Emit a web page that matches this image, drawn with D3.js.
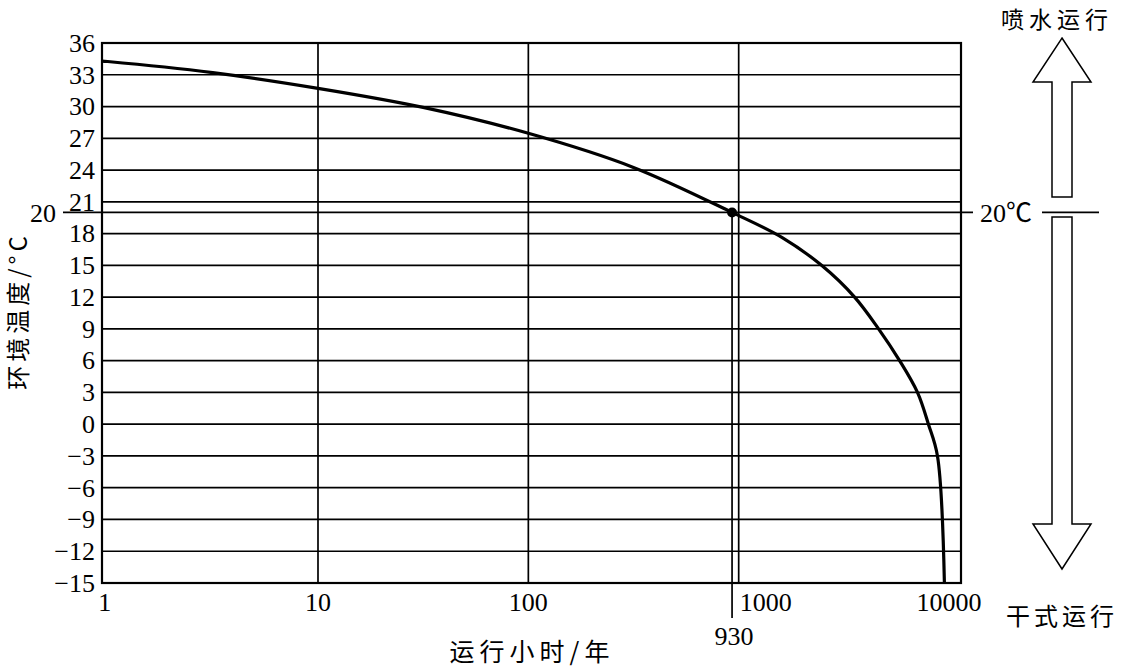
<!DOCTYPE html>
<html><head><meta charset="utf-8">
<script src="https://cdn.jsdelivr.net/npm/d3@7"></script>
<style>
body{margin:0;background:#fff;}
svg{display:block;}
.num{font-family:"Liberation Serif","Times New Roman",serif;font-size:26px;fill:#000;}
.cjk{font-family:"Noto Sans CJK SC","Noto Sans CJK JP",sans-serif;fill:#000;}
</style>
</head><body>
<svg id="c" width="1123" height="668"></svg>
<script>
// ---- data ----
const hours = [0.94, 1, 3.16, 10, 31.6, 100, 316, 930, 1618, 2477, 3556, 4624, 5821, 7079, 7980, 8810, 9506];
const temps = [34.29, 34.25, 33.2, 31.72, 29.92, 27.47, 24.25, 20, 17.6, 15, 12, 9, 6, 3, 0, -3, -15];
const yTicks = [-15, -12, -9, -6, -3, 0, 3, 6, 9, 12, 15, 18, 21, 24, 27, 30, 33, 36];
const xTicks = [1, 10, 100, 1000, 10000];
const xGrid = [10, 100, 1000];
const markHours = 930, markTemp = 20;
const xTitle = "运行小时/年";
const yTitle = "环境温度/°C";
const upLabel = "喷水运行", downLabel = "干式运行";

// ---- layout ----
const L = 102, R = 961, T = 43, B = 583;
const svg = d3.select("#c");
const x = d3.scaleLog().domain([0.94, 11400]).range([L, R]);
const y = d3.scaleLinear().domain([-15, 36]).range([B, T]);

// horizontal grid
svg.append("g").selectAll("line").data(yTicks).join("line")
  .attr("x1", L).attr("x2", R).attr("y1", d => y(d)).attr("y2", d => y(d))
  .attr("stroke", "#000").attr("stroke-width", 1.7);
// vertical grid
svg.append("g").selectAll("line").data(xGrid).join("line")
  .attr("x1", d => x(d)).attr("x2", d => x(d)).attr("y1", T).attr("y2", B)
  .attr("stroke", "#000").attr("stroke-width", 1.7);

// 20 line (extends left & right)
svg.append("line").attr("x1", 63).attr("x2", 973).attr("y1", y(markTemp)).attr("y2", y(markTemp))
  .attr("stroke", "#000").attr("stroke-width", 1.7);
svg.append("line").attr("x1", 1042).attr("x2", 1099).attr("y1", y(markTemp)).attr("y2", y(markTemp))
  .attr("stroke", "#000").attr("stroke-width", 1.7);
// 930 line
svg.append("line").attr("x1", x(markHours)).attr("x2", x(markHours)).attr("y1", y(markTemp)).attr("y2", 618)
  .attr("stroke", "#000").attr("stroke-width", 1.7);

// frame
svg.append("rect").attr("x", L).attr("y", T).attr("width", R - L).attr("height", B - T)
  .attr("fill", "none").attr("stroke", "#000").attr("stroke-width", 2.2);

// curve
const line = d3.line().x((d, i) => x(hours[i])).y((d, i) => y(temps[i])).curve(d3.curveCatmullRom.alpha(0.5));
svg.append("path").datum(hours).attr("d", line).attr("fill", "none")
  .attr("stroke", "#000").attr("stroke-width", 3.2).attr("stroke-linejoin", "round");
svg.append("circle").attr("cx", x(markHours)).attr("cy", y(markTemp)).attr("r", 5).attr("fill", "#000");

// y axis labels
const yAxis = svg.append("g").attr("transform", `translate(${L},0)`)
  .call(d3.axisLeft(y).tickValues(yTicks).tickSize(0).tickPadding(7));
yAxis.select(".domain").remove();
yAxis.attr("font-size", null).attr("font-family", null);
yAxis.selectAll("text").attr("class", "num");
svg.append("text").attr("class", "num").attr("x", 56).attr("y", y(markTemp)).attr("dy", "0.35em")
  .attr("text-anchor", "end").text(String(markTemp));

// x axis labels
svg.append("g").selectAll("text").data(xTicks).join("text").attr("class", "num")
  .attr("x", d => d === 1000 ? x(d) + 1 : x(d) + (d === 1 ? -3 : 0))
  .attr("y", 611)
  .attr("text-anchor", d => d === 1000 ? "start" : "middle")
  .text(d => String(d));
svg.append("text").attr("class", "num").attr("x", x(markHours) + 2).attr("y", 645)
  .attr("text-anchor", "middle").text(String(markHours));

// titles
svg.append("text").attr("class", "cjk").attr("x", 532).attr("y", 652).attr("dy", "0.35em")
  .attr("text-anchor", "middle").attr("font-size", 25).attr("letter-spacing", 5).text(xTitle);
svg.append("text").attr("class", "cjk").attr("transform", "translate(19,311) rotate(-90)")
  .attr("dy", "0.35em").attr("text-anchor", "middle").attr("font-size", 24).attr("letter-spacing", 4).text(yTitle);

// 20℃ label
svg.append("text").attr("x", 1006).attr("y", y(markTemp)).attr("dy", "0.35em").attr("text-anchor", "middle")
  .attr("font-family", "'Liberation Serif','Noto Sans CJK SC',serif").attr("font-size", 26)
  .text(markTemp + "℃");

// arrows
const ax = 1062, hw = 29, sw = 10;
const up = [[ax, 38], [ax + hw, 82], [ax + sw, 82], [ax + sw, 197], [ax - sw, 197], [ax - sw, 82], [ax - hw, 82]];
const dn = [[ax, 569], [ax + hw, 524], [ax + sw, 524], [ax + sw, 217], [ax - sw, 217], [ax - sw, 524], [ax - hw, 524]];
[up, dn].forEach(p => svg.append("path").attr("d", d3.line()(p) + "Z")
  .attr("fill", "#fff").attr("stroke", "#000").attr("stroke-width", 1.5));

svg.append("text").attr("class", "cjk").attr("x", 1057).attr("y", 20).attr("dy", "0.35em")
  .attr("text-anchor", "middle").attr("font-size", 23).attr("letter-spacing", 5).text(upLabel);
svg.append("text").attr("class", "cjk").attr("x", 1062).attr("y", 617).attr("dy", "0.35em")
  .attr("text-anchor", "middle").attr("font-size", 24).attr("letter-spacing", 4).text(downLabel);
</script>
</body></html>
